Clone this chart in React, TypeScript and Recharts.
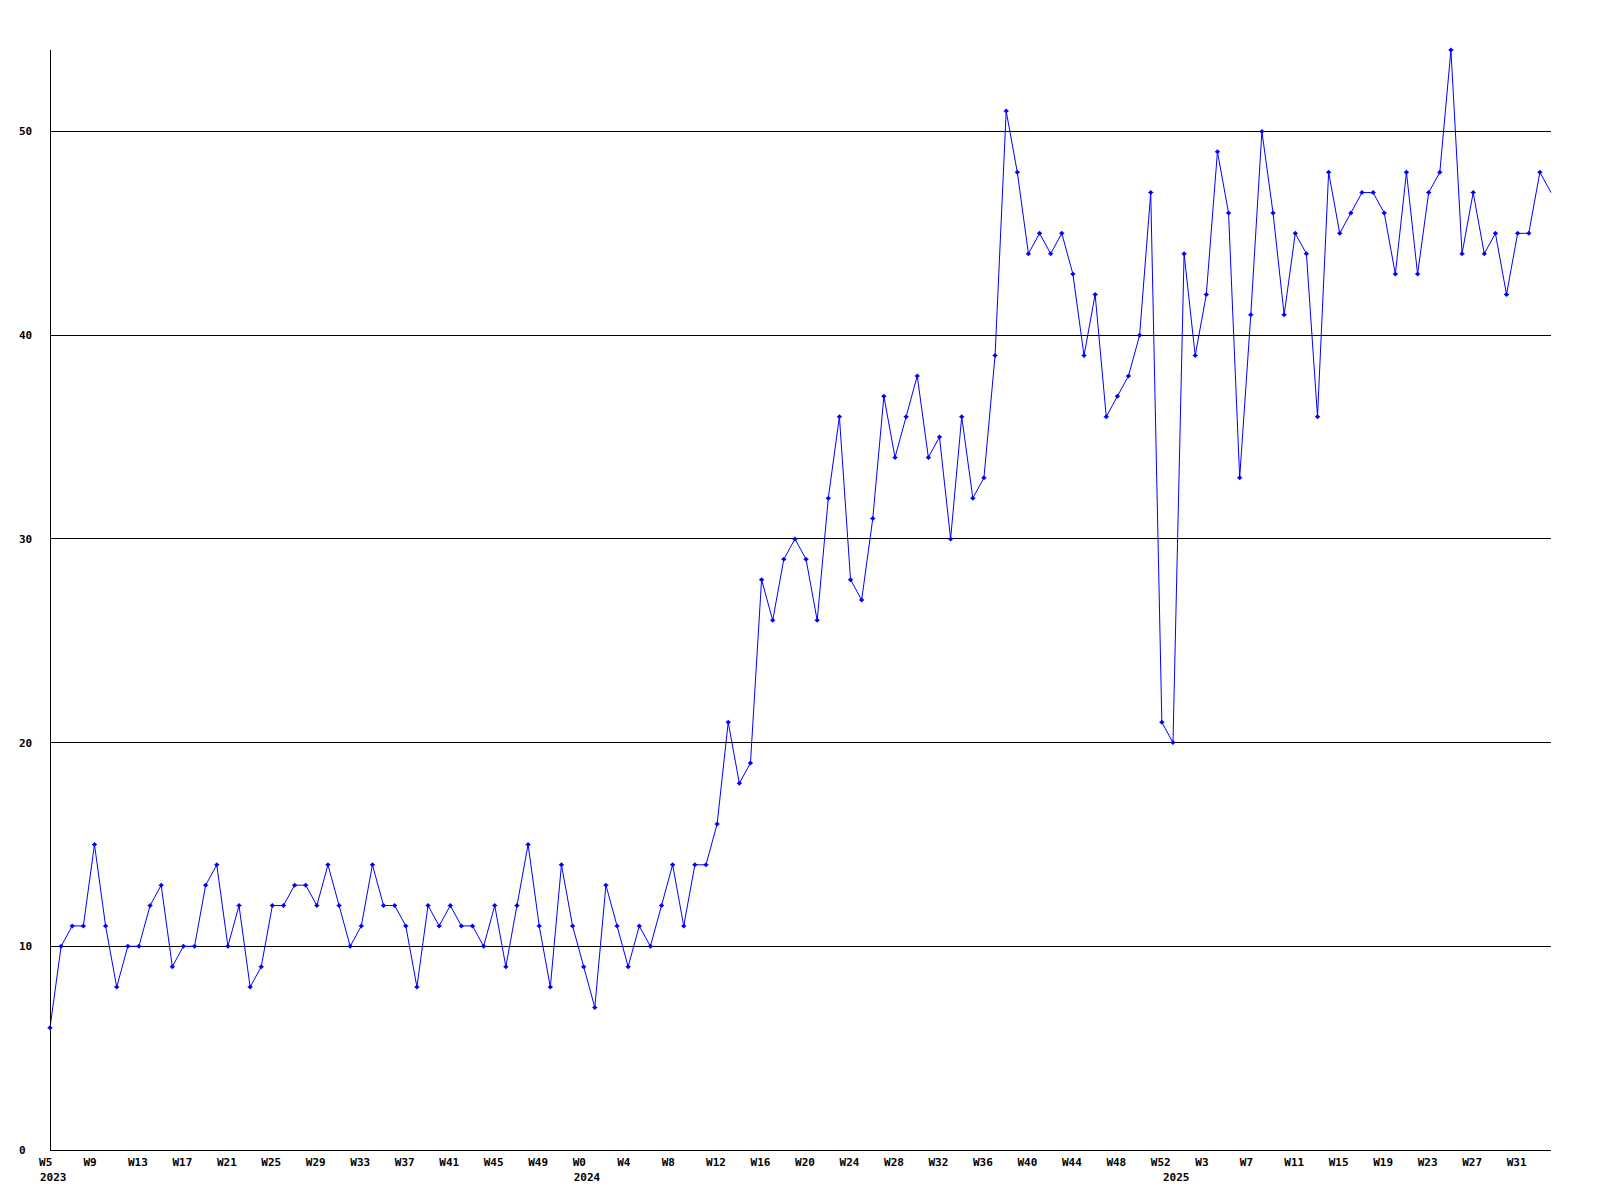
import React from 'react';
import { LineChart, Line, XAxis, YAxis, ReferenceLine } from 'recharts';

// weekly counts, one per week from 2023 W5 to 2025 W34
const values = [
  6, 10, 11, 11, 15, 11, 8, 10, 10, 12, 13, 9, 10, 10, 13, 14, 10, 12, 8, 9, 12, 12, 13, 13, 12, 14, 12, 10, 11, 14, 12, 12,
  11, 8, 12, 11, 12, 11, 11, 10, 12, 9, 12, 15, 11, 8, 14, 11, 9, 7, 13, 11, 9, 11, 10, 12, 14, 11, 14, 14, 16,
  21, 18, 19, 28, 26, 29, 30, 29, 26, 32, 36, 28, 27, 31, 37, 34, 36, 38, 34, 35, 30, 36, 32, 33, 39,
  51, 48, 44, 45, 44, 45, 43, 39, 42, 36, 37, 38, 40, 47, 21, 20, 44, 39, 42, 49, 46, 33, 41, 50, 46, 41, 45, 44, 36, 48,
  45, 46, 47, 47, 46, 43, 48, 43, 47, 48, 54, 44, 47, 44, 45, 42, 45, 45, 48, 47,
];

// year segments: first and last week number shown for each year
const years = ['2023', '2024', '2025'];
const firstWeek = [5, 0, 0];
const lastWeek = [52, 52, 34];

const yTicks = [0, 10, 20, 30, 40, 50];

const weeks: { year: string; week: number }[] = [];
years.forEach((y, k) => {
  for (let w = firstWeek[k]; w <= lastWeek[k]; w++) weeks.push({ year: y, week: w });
});

const data = values.map((v, i) => ({ i, v }));
const yearStart = weeks.map((w, i) => (i === 0 || weeks[i - 1].year !== w.year ? i : -1)).filter((i) => i >= 0);
const xTicks = Array.from(new Set([...weeks.map((_, i) => i).filter((i) => i % 4 === 0), ...yearStart])).sort((a, b) => a - b);

const FONT = '"DejaVu Sans Mono", monospace';

const XTick = (props: any) => {
  const { x, payload } = props;
  const i = payload.value as number;
  const w = weeks[i];
  if (!w) return null;
  return (
    <g>
      {i % 4 === 0 && (
        <text x={x - 11} y={1166} fontFamily={FONT} fontWeight="bold" fontSize={11} fill="#000" textAnchor="start">
          W{w.week}
        </text>
      )}
      {yearStart.includes(i) && (
        <text x={x - 10} y={1181} fontFamily={FONT} fontWeight="bold" fontSize={11} fill="#000" textAnchor="start">
          {w.year}
        </text>
      )}
    </g>
  );
};

const YTick = (props: any) => {
  const { y, payload } = props;
  return (
    <text x={19} y={y + 4} fontFamily={FONT} fontWeight="bold" fontSize={11} fill="#000" textAnchor="start">
      {payload.value}
    </text>
  );
};

const Marker = (props: any) => {
  const { cx, cy, index } = props;
  if (index === values.length - 1) return <g key={index} />;
  return (
    <path
      key={index}
      d={`M${cx - 2.5},${cy} L${cx},${cy - 2.5} L${cx + 2.5},${cy} L${cx},${cy + 2.5} Z M${cx - 2.5},${cy - 0.5} h5 v1 h-5 Z`}
      fill="#0000ff"
      stroke="none"
    />
  );
};

export default function App() {
  return (
    <div style={{ position: 'absolute', left: 0, top: 0, width: 1600, height: 1200, background: '#fff' }}>
      <LineChart width={1600} height={1200} data={data} margin={{ top: 50, right: 49, bottom: 0, left: 0 }}>
        <XAxis
          dataKey="i"
          type="number"
          domain={[0, values.length - 1]}
          ticks={xTicks}
          interval={0}
          height={50}
          tickLine={false}
          axisLine={{ stroke: '#000', shapeRendering: 'crispEdges' }}
          tick={<XTick />}
        />
        <YAxis
          domain={[0, 54]}
          ticks={yTicks}
          width={50}
          tickLine={false}
          axisLine={{ stroke: '#000', shapeRendering: 'crispEdges' }}
          tick={<YTick />}
        />
        {yTicks
          .filter((t) => t > 0)
          .map((t) => (
            <ReferenceLine key={t} y={t} stroke="#000" strokeWidth={1} shapeRendering="crispEdges" />
          ))}
        <Line type="linear" dataKey="v" stroke="#0000ff" strokeWidth={1} dot={<Marker />} isAnimationActive={false} />
      </LineChart>
    </div>
  );
}
